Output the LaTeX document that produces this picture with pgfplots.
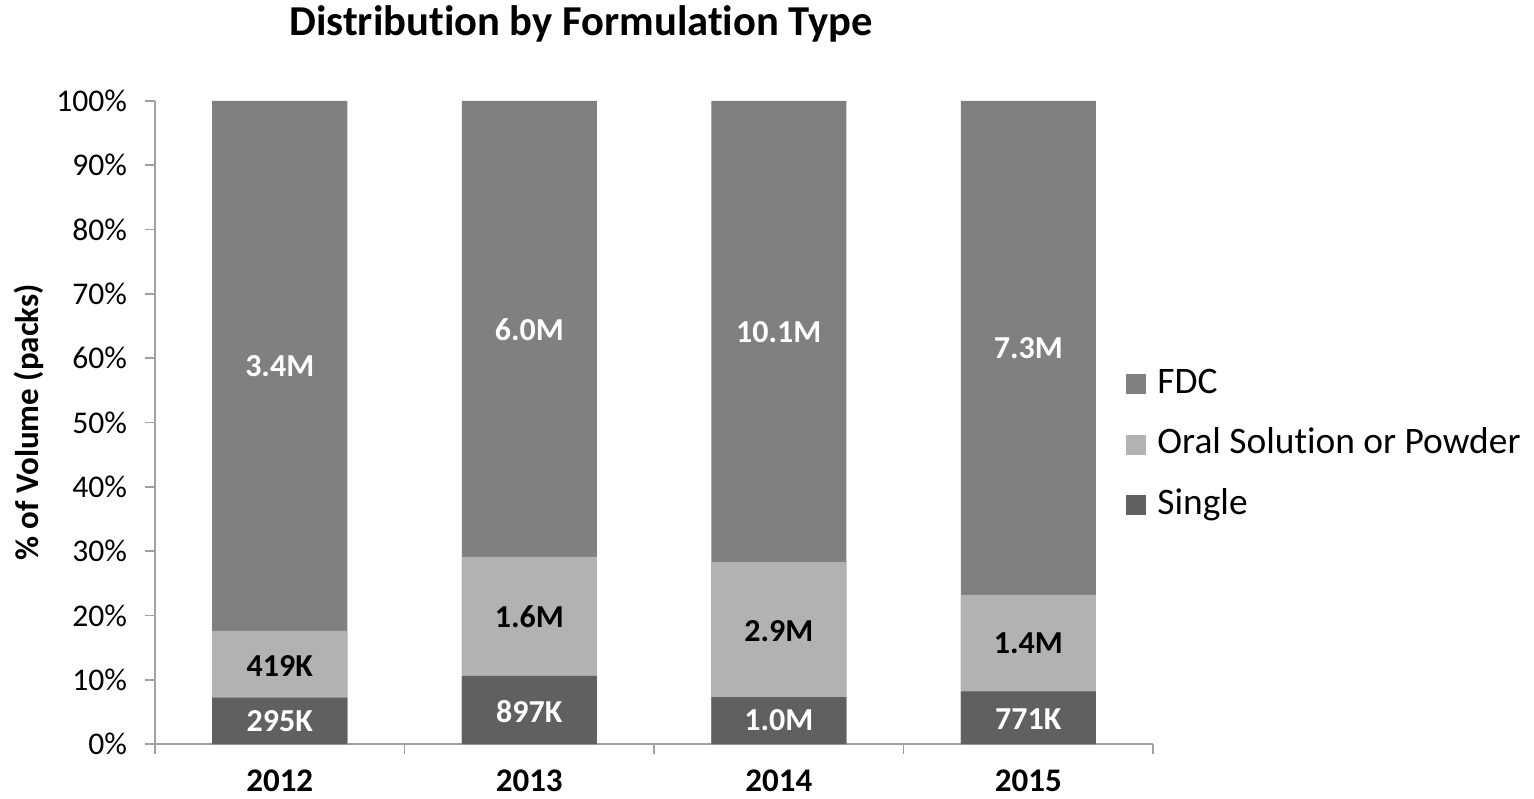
\documentclass[border=0pt]{standalone}
\usepackage{fontspec}
\setmainfont{Carlito}[Ligatures=NoCommon]
\usepackage{pgfplots}
\pgfplotsset{compat=1.18}
\definecolor{cfdc}{HTML}{808080}
\definecolor{coral}{HTML}{B2B2B2}
\definecolor{csingle}{HTML}{606060}
\definecolor{axgray}{HTML}{A0A0A0}
\begin{document}
\begin{tikzpicture}
\useasboundingbox (-77.5pt,-27pt) rectangle (689.5pt,372pt);
\begin{axis}[
  at={(0,0)}, anchor=south west,
  scale only axis, width=499pt, height=321.5pt,
  xmin=-0.5, xmax=3.5, ymin=0, ymax=100,
  axis x line=bottom, axis y line=left,
  axis line style={draw=axgray, line width=0.8pt, -},
  tick align=outside,
  major tick length=5pt, minor tick length=5pt,
  xtick={0,1,2,3}, xticklabels={2012,2013,2014,2015},
  major x tick style={draw=none},
  minor xtick={-0.5,0.5,1.5,2.5,3.5},
  minor x tick style={draw=axgray, line width=0.8pt},
  ytick={0,10,...,100},
  yticklabels={0\%,10\%,20\%,30\%,40\%,50\%,60\%,70\%,80\%,90\%,100\%},
  y tick style={draw=axgray, line width=0.8pt},
  yticklabel style={font=\fontsize{15.8}{18}\selectfont, xshift=-5.5pt},
  xticklabel style={font=\bfseries\fontsize{16.5}{19}\selectfont, inner sep=0pt, yshift=-7.75pt},
  ylabel={\% of Volume (packs)},
  every axis y label/.style={at={(axis description cs:-0.1263,0.5)}, rotate=90, anchor=center, font=\bfseries\fontsize{16.5}{19}\selectfont},
  title={Distribution by Formulation Type},
  every axis title/.style={at={(axis description cs:0.4269,1.1011)}, anchor=base, font=\bfseries\fontsize{21.3}{25}\selectfont},
  legend style={draw=none, fill=none, inner sep=0pt,
    at={(axis description cs:0.973,0.5925)}, anchor=north west,
    font=\fontsize{18.7}{22}\selectfont, row sep=9.25pt,
    nodes={text height=13pt, text depth=4pt, inner sep=2pt},
    /tikz/every odd column/.append style={column sep=3.5pt}},
  legend cell align=left,
  legend image code/.code={\fill[#1] (0pt,-5pt) rectangle (10pt,5pt);},
]
% bars drawn as overlapping cumulative heights (FDC top = 100%)
\addplot[ybar, bar width=67.5pt, bar shift=0pt, fill=cfdc, draw=none] table[x=x, y=y] {
x y
0 100
1 100
2 100
3 100
};
\addlegendentry{FDC}
\addplot[ybar, bar width=67.5pt, bar shift=0pt, fill=coral, draw=none] table[x=x, y=y] {
x y
0 17.6
1 29.1
2 28.3
3 23.2
};
\addlegendentry{Oral Solution or Powder}
\addplot[ybar, bar width=67.5pt, bar shift=0pt, fill=csingle, draw=none] table[x=x, y=y] {
x y
0 7.2
1 10.6
2 7.3
3 8.2
};
\addlegendentry{Single}
% value labels at segment centres
\addplot[draw=none, mark=none, forget plot, nodes near coords, point meta=explicit symbolic,
  every node near coord/.style={anchor=center, text=white, font=\bfseries\fontsize{16}{19}\selectfont}] table[x=x, y=y, meta=lab] {
x y lab
0 58.8 3.4M
1 64.5 6.0M
2 64.1 10.1M
3 61.5 7.3M
};
\addplot[draw=none, mark=none, forget plot, nodes near coords, point meta=explicit symbolic,
  every node near coord/.style={anchor=center, text=black, font=\bfseries\fontsize{16}{19}\selectfont}] table[x=x, y=y, meta=lab] {
x y lab
0 12.2 419K
1 19.8 1.6M
2 17.6 2.9M
3 15.7 1.4M
};
\addplot[draw=none, mark=none, forget plot, nodes near coords, point meta=explicit symbolic,
  every node near coord/.style={anchor=center, text=white, font=\bfseries\fontsize{16}{19}\selectfont}] table[x=x, y=y, meta=lab] {
x y lab
0 3.5 295K
1 5.1 897K
2 3.7 1.0M
3 3.8 771K
};
\end{axis}
\end{tikzpicture}
\end{document}
